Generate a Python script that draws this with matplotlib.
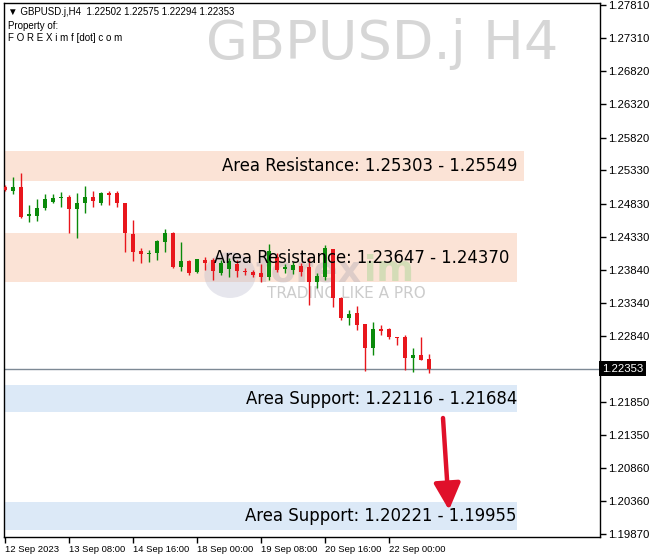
import matplotlib

matplotlib.use("Agg")
import matplotlib.pyplot as plt
from matplotlib.patches import Rectangle, Circle
from matplotlib.transforms import blended_transform_factory

# H4 candles 12 Sep 2023 00:00 .. 22 Sep 2023 20:00
opens = [1.25078, 1.25018, 1.25078, 1.24643, 1.24643, 1.24763, 1.24853, 1.24913, 1.24928, 1.24748,
         1.24838, 1.24928, 1.24838, 1.24988, 1.24988, 1.24838, 1.24373, 1.24118, 1.24073, 1.24088,
         1.24253, 1.24388, 1.23878, 1.23968, 1.23802, 1.23983, 1.23983, 1.23787, 1.23848, 1.23923,
         1.23817, 1.23802, 1.23787, 1.23727, 1.24028, 1.23848, 1.23832, 1.23893, 1.23878, 1.23652,
         1.23727, 1.24148, 1.23412, 1.23112, 1.23187, 1.23022, 1.22662, 1.22947, 1.22947, 1.22827,
         1.22827, 1.22511, 1.22556, 1.22502]
highs = [1.25108, 1.25228, 1.25288, 1.24808, 1.24898, 1.24973, 1.24973, 1.25003, 1.24958, 1.24988,
         1.25093, 1.25018, 1.25003, 1.25018, 1.25018, 1.24838, 1.24583, 1.24163, 1.24133, 1.24283,
         1.24448, 1.24403, 1.24253, 1.23983, 1.23998, 1.24028, 1.24013, 1.23983, 1.24013, 1.23983,
         1.23863, 1.23832, 1.23923, 1.24223, 1.24088, 1.23923, 1.23953, 1.23938, 1.24013, 1.23787,
         1.24208, 1.24148, 1.23427, 1.23232, 1.23292, 1.23022, 1.23052, 1.23007, 1.22962, 1.22827,
         1.22857, 1.22662, 1.22827, 1.22575]
lows = [1.25018, 1.24973, 1.24613, 1.24553, 1.24568, 1.24733, 1.24838, 1.24778, 1.24388, 1.24313,
        1.24688, 1.24778, 1.24808, 1.24808, 1.24778, 1.24103, 1.23968, 1.23938, 1.23953, 1.23983,
        1.24103, 1.23863, 1.23817, 1.23757, 1.23787, 1.23832, 1.23682, 1.23757, 1.23727, 1.23727,
        1.23757, 1.23727, 1.23652, 1.23682, 1.23802, 1.23787, 1.23772, 1.23742, 1.23307, 1.23562,
        1.23682, 1.23277, 1.23082, 1.23007, 1.22932, 1.22316, 1.22556, 1.22857, 1.22797, 1.22707,
        1.22331, 1.22301, 1.22481, 1.22294]
closes = [1.25033, 1.25078, 1.24628, 1.24673, 1.24763, 1.24898, 1.24913, 1.24928, 1.24748, 1.24838,
          1.24928, 1.24868, 1.24988, 1.24958, 1.24838, 1.24388, 1.24103, 1.24073, 1.24088, 1.24268,
          1.24388, 1.23878, 1.23968, 1.23787, 1.23998, 1.23938, 1.23817, 1.23938, 1.23968, 1.23817,
          1.23802, 1.23757, 1.23727, 1.24118, 1.23832, 1.23878, 1.23908, 1.23802, 1.23652, 1.23742,
          1.24163, 1.23412, 1.23112, 1.23172, 1.23007, 1.22662, 1.22947, 1.22917, 1.22827, 1.22812,
          1.22511, 1.22556, 1.22481, 1.22353]

# zones: price bounds of the shaded boxes, where they stop (bar index), label
zone_lo = [1.25168, 1.23652, 1.21701, 1.19930]
zone_hi = [1.25618, 1.24388, 1.22106, 1.20350]
zone_end = [64.9, 64.0, 64.0, 64.0]
zone_kind = ["res", "res", "sup", "sup"]
zone_text = ["Area Resistance: 1.25303 - 1.25549", "Area Resistance: 1.23647 - 1.24370",
             "Area Support: 1.22116 - 1.21684", "Area Support: 1.20221 - 1.19955"]
label_end = [64.0, 63.1, 64.0, 64.0]

date_idx = [0, 8, 16, 24, 32, 40, 48]
date_labels = ["12 Sep 2023", "13 Sep 08:00", "14 Sep 16:00", "18 Sep 00:00",
               "19 Sep 08:00", "20 Sep 16:00", "22 Sep 00:00"]
price_ticks = [1.27810, 1.27310, 1.26820, 1.26320, 1.25820, 1.25330, 1.24830, 1.24330,
               1.23840, 1.23340, 1.22840, 1.21850, 1.21350, 1.20860, 1.20360, 1.19870]

# target arrow (start / end): bar index, price
arrow_x = [54.75, 55.5]
arrow_y = [1.21611, 1.20230]

UP = "#0a8a0a"
DN = "#e8161c"
RES = "#fbe3d6"
SUP = "#dce9f7"
SMALL = ["Liberation Sans", "DejaVu Sans"]

W, H = 664, 560
fig = plt.figure(figsize=(W / 100, H / 100), dpi=100)
fig.patch.set_facecolor("white")
ax = fig.add_axes([4 / W, 1 - 537 / H, 596 / W, 534 / H])
ax.set_xlim(-0.125, 74.375)
ax.set_ylim(1.19825, 1.27840)

# zones
for lo, hi, end, kind in zip(zone_lo, zone_hi, zone_end, zone_kind):
    ax.add_patch(Rectangle((-1, lo), end + 1, hi - lo, facecolor=RES if kind == "res" else SUP,
                           edgecolor="none", zorder=1))

# watermarks
ax.text(0.634, 1 - 41 / 534, "GBPUSD.j H4", transform=ax.transAxes, fontsize=39, color="#d6d6d6",
        ha="center", va="center", zorder=0.5)
ax.add_patch(Circle((226 / 596, 1 - 272 / 534), 0.043, transform=ax.transAxes,
                    facecolor="#b8b8cc", edgecolor="none", alpha=0.35, zorder=1.5))
ax.text(251 / 596, 1 - 268 / 534, "forex", transform=ax.transAxes, fontsize=26,
        fontweight="bold", color="#9a9aa8", alpha=0.3, va="center", zorder=1.6)
ax.text(360 / 596, 1 - 268 / 534, "im", transform=ax.transAxes, fontsize=26,
        fontweight="bold", color="#9bd28a", alpha=0.4, va="center", zorder=1.6)
ax.text(342 / 596, 1 - 291 / 534, "TRADING LIKE A PRO", transform=ax.transAxes, fontsize=11,
        color="#cccccc", ha="center", va="center", zorder=1.6)

# candles
for i, (o, h, l, c) in enumerate(zip(opens, highs, lows, closes)):
    col = UP if c >= o else DN
    ax.vlines(i, l, h, color=col, linewidth=1, zorder=3)
    body = max(abs(c - o), 0.00012)
    ax.bar(i, body, bottom=min(o, c), width=0.6, color=col, linewidth=0, zorder=3)

# current price line
last = closes[-1]
ax.axhline(last, color="#7d8995", linewidth=1, zorder=2.5)

# zone labels
for lo, hi, xe, txt in zip(zone_lo, zone_hi, label_end, zone_text):
    ax.text(xe, (lo + hi) / 2, txt, fontsize=11.9, color="black", ha="right", va="center",
            zorder=4)

ax.annotate("", xy=(arrow_x[1], arrow_y[1]), xytext=(arrow_x[0], arrow_y[0]),
            arrowprops=dict(arrowstyle="-|>,head_length=0.9,head_width=0.45", color="#e0102a",
                            lw=3.2, mutation_scale=18, shrinkA=0, shrinkB=0), zorder=5)

# axes
for s in ax.spines.values():
    s.set_color("black")
    s.set_linewidth(1)
ax.yaxis.tick_right()
ax.set_yticks(price_ticks)
ax.set_yticklabels([f"{v:.5f}" for v in price_ticks], family=SMALL)
ax.set_xticks(date_idx)
ax.set_xticklabels(date_labels, ha="left", family=SMALL)
ax.tick_params(axis="y", length=4, width=1, pad=1.5, labelsize=8.2, colors="black")
ax.tick_params(axis="x", length=4, width=1, pad=2, labelsize=6.8, colors="black")

ax.text(1.003, last, f"{last:.5f}", transform=blended_transform_factory(ax.transAxes, ax.transData),
        fontsize=8.2, family=SMALL, color="white", ha="left", va="center",
        bbox=dict(facecolor="black", edgecolor="none", pad=1.8), zorder=6, clip_on=False)

# header
fig.text(8 / W, 1 - 12 / H, "\u25bc GBPUSD.j,H4  1.22502 1.22575 1.22294 1.22353", fontsize=7.0,
         family=SMALL, va="center", color="black")
fig.text(8 / W, 1 - 26 / H, "Property of:", fontsize=7.0, family=SMALL, va="center", color="black")
fig.text(8 / W, 1 - 38 / H, "F O R E X i m f [dot] c o m", fontsize=7.0, family=SMALL,
         va="center", color="black")

fig.savefig("out.png", dpi=100, facecolor="white")
